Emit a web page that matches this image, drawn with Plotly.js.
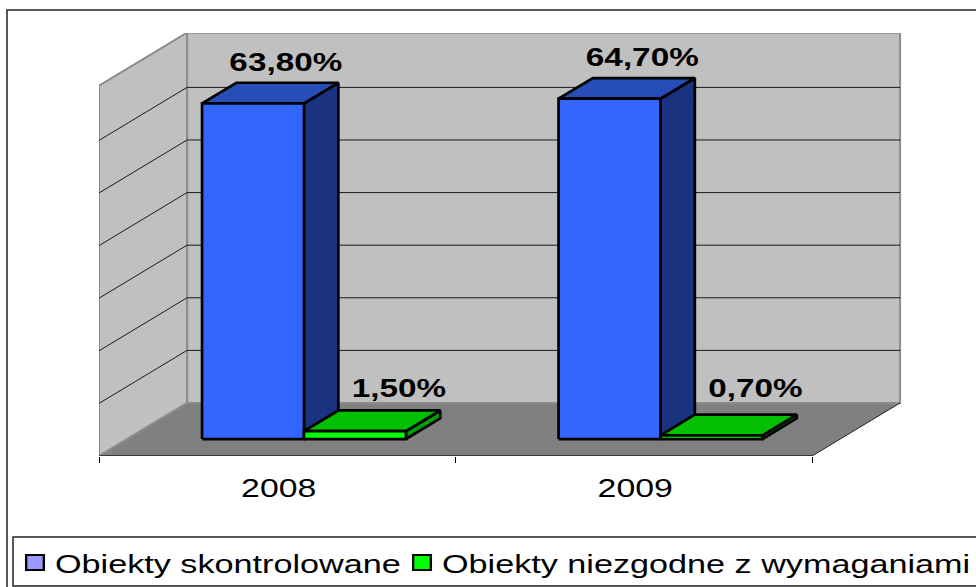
<!DOCTYPE html>
<html><head><meta charset="utf-8">
<script src="https://cdn.plot.ly/plotly-3.0.1.min.js"></script>
<style>
html,body{margin:0;padding:0;background:#fff;overflow:hidden}
#c{width:976px;height:587px}
.textpoint text{transform-box:fill-box;transform-origin:center;scale:1.28 1}
.legendtext{transform-box:fill-box;transform-origin:left center;scale:1.315 1}
.legend .scrollbox{clip-path:none !important}
</style></head><body><div id="c"></div>
<script>
var categories=['2008','2009'];
var controlled=[63.8,64.7];
var nonCompliant=[1.5,0.7];
var gridValues=[10,20,30,40,50,60];
var seriesNames=['Obiekty skontrolowane','Obiekty niezgodne z wymaganiami'];
var wallTop=70.4;

var L=99,T=33,W=803,H=423;
function P(x,v,d){return [x+0.247*d, v+10.08*d];}
function poly(pts,fill,line,lw){
  return {type:'scatter',mode:'lines',x:pts.map(function(p){return p[0]}),y:pts.map(function(p){return p[1]}),
    fill:'toself',fillcolor:fill,line:{color:line,width:lw},showlegend:false,hoverinfo:'skip',cliponaxis:false};
}
function seg(a,b,color,w){
  return {type:'scatter',mode:'lines',x:[a[0],b[0]],y:[a[1],b[1]],line:{color:color,width:w},showlegend:false,hoverinfo:'skip',cliponaxis:false};
}
var traces=[];
var gray='#8c8c8c';
traces.push(poly([P(0,0,0),P(0,0,1),P(2,0,1),P(2,0,0),P(0,0,0)],'#808080','rgba(0,0,0,0)',0));
traces.push(poly([P(0,0,1),P(0,wallTop,1),P(2,wallTop,1),P(2,0,1),P(0,0,1)],'#c0c0c0',gray,2));
traces.push(poly([P(0,0,0),P(0,wallTop,0),P(0,wallTop,1),P(0,0,1),P(0,0,0)],'#c0c0c0',gray,2));
gridValues.forEach(function(v){
  traces.push(seg(P(0,v,0),P(0,v,1),'#1a1a1a',1));
  traces.push(seg(P(0,v,1),P(2,v,1),'#1a1a1a',1));
});
traces.push(seg(P(0,0,0),P(2,0,0),'#222',1.5));
traces.push(seg(P(2,0,0),P(2,0,1),'#222',1));

var d0=0.32,d1=0.71,bw=0.286,shift=-0.004;
function bar(x0,v,front,side,top){
  var x1=x0+bw,b=0;
  traces.push(poly([P(x1,b,d0),P(x1,v,d0),P(x1,v,d1),P(x1,b,d1),P(x1,b,d0)],side,'#000',2.7));
  traces.push(poly([P(x0,v,d0),P(x0,v,d1),P(x1,v,d1),P(x1,v,d0),P(x0,v,d0)],top,'#000',2.7));
  traces.push(poly([P(x0,b,d0),P(x0,v,d0),P(x1,v,d0),P(x1,b,d0),P(x0,b,d0)],front,'#000',2.7));
}
categories.forEach(function(c,i){
  bar(i+0.5-bw+shift,controlled[i],'#3366ff','#1a3380','#264db8');
  bar(i+0.5+shift,nonCompliant[i],'#00ff00','#00a000','#00c000');
});
function fmt(v){return v.toFixed(2).replace('.',',')+'%';}
var lx=[],ly=[],lt=[];
categories.forEach(function(c,i){
  lx.push(i+0.524);ly.push(controlled[i]+10.6);lt.push(fmt(controlled[i]));
  lx.push(i+0.841);ly.push(Math.max(nonCompliant[i]+10.6,12.4));lt.push(fmt(nonCompliant[i]));
});
traces.push({type:'scatter',mode:'text',x:lx,y:ly,text:lt,textposition:'middle center',
  textfont:{family:'Liberation Sans, Arial, sans-serif',size:26,color:'#000',weight:700},showlegend:false,hoverinfo:'skip',cliponaxis:false});
traces.push({type:'scatter',mode:'markers',x:[null],y:[null],name:seriesNames[0],marker:{symbol:'square',size:15,color:'#9999ff',line:{color:'#000',width:2}}});
traces.push({type:'scatter',mode:'markers',x:[null],y:[null],name:seriesNames[1],marker:{symbol:'square',size:15,color:'#00ff00',line:{color:'#000',width:2}}});

function px(x){return (x-L)/W;}
function py(y){return (T+H-y)/H;}
var layout={
  width:976,height:587,margin:{l:L,t:T,r:976-L-W,b:587-T-H,pad:0,autoexpand:false},
  paper_bgcolor:'#fff',plot_bgcolor:'rgba(0,0,0,0)',showlegend:true,hovermode:false,
  font:{family:'Liberation Sans, Arial, sans-serif',color:'#000'},
  xaxis:{type:'linear',automargin:false,range:[0,2*W/713],showgrid:false,zeroline:false,showline:false,fixedrange:true,
    tickmode:'array',tickvals:[0.504,1.504],ticktext:categories,ticks:'',ticklen:0,ticklabelstandoff:14,
    tickfont:{size:26,family:'Liberation Sans, Arial, sans-serif',color:'#000'},
    minor:{tickmode:'array',tickvals:[0,1,2],ticks:'outside',ticklen:6,tickwidth:1,tickcolor:'#000',showgrid:false}},
  yaxis:{range:[0,H/5.26],visible:false,fixedrange:true},
  legend:{orientation:'h',x:px(15),y:py(539),xanchor:'left',yanchor:'top',bgcolor:'rgba(0,0,0,0)',borderwidth:0,
    entrywidth:342,entrywidthmode:'pixels',itemwidth:30,traceorder:'normal',font:{size:26,family:'Liberation Sans, Arial, sans-serif',color:'#000'},itemclick:false,itemdoubleclick:false},
  shapes:[
    {type:'rect',xref:'paper',yref:'paper',x0:px(7),x1:px(990),y0:py(10),y1:py(600),line:{color:'#222',width:1.5},fillcolor:'rgba(0,0,0,0)',layer:'below'},
    {type:'rect',xref:'paper',yref:'paper',x0:px(13),x1:px(990),y0:py(537),y1:py(586),line:{color:'#222',width:1.5},fillcolor:'#fff',layer:'below'}
  ]
};
Plotly.newPlot('c',traces,layout,{displayModeBar:false,staticPlot:true}).then(function(gd){
  gd.querySelectorAll('.xtick text').forEach(function(t){
    var b=t.getBBox(),c=b.x+b.width/2,tr=t.getAttribute('transform')||'';
    t.setAttribute('transform',tr+' translate('+c+',0) scale(1.3,1) translate('+(-c)+',0)');
  });
  gd.querySelectorAll('.legendpoints path').forEach(function(p){
    var tr=p.getAttribute('transform')||'';
    p.setAttribute('transform',tr+' scale(1.18,1)');
  });
});
</script></body></html>
